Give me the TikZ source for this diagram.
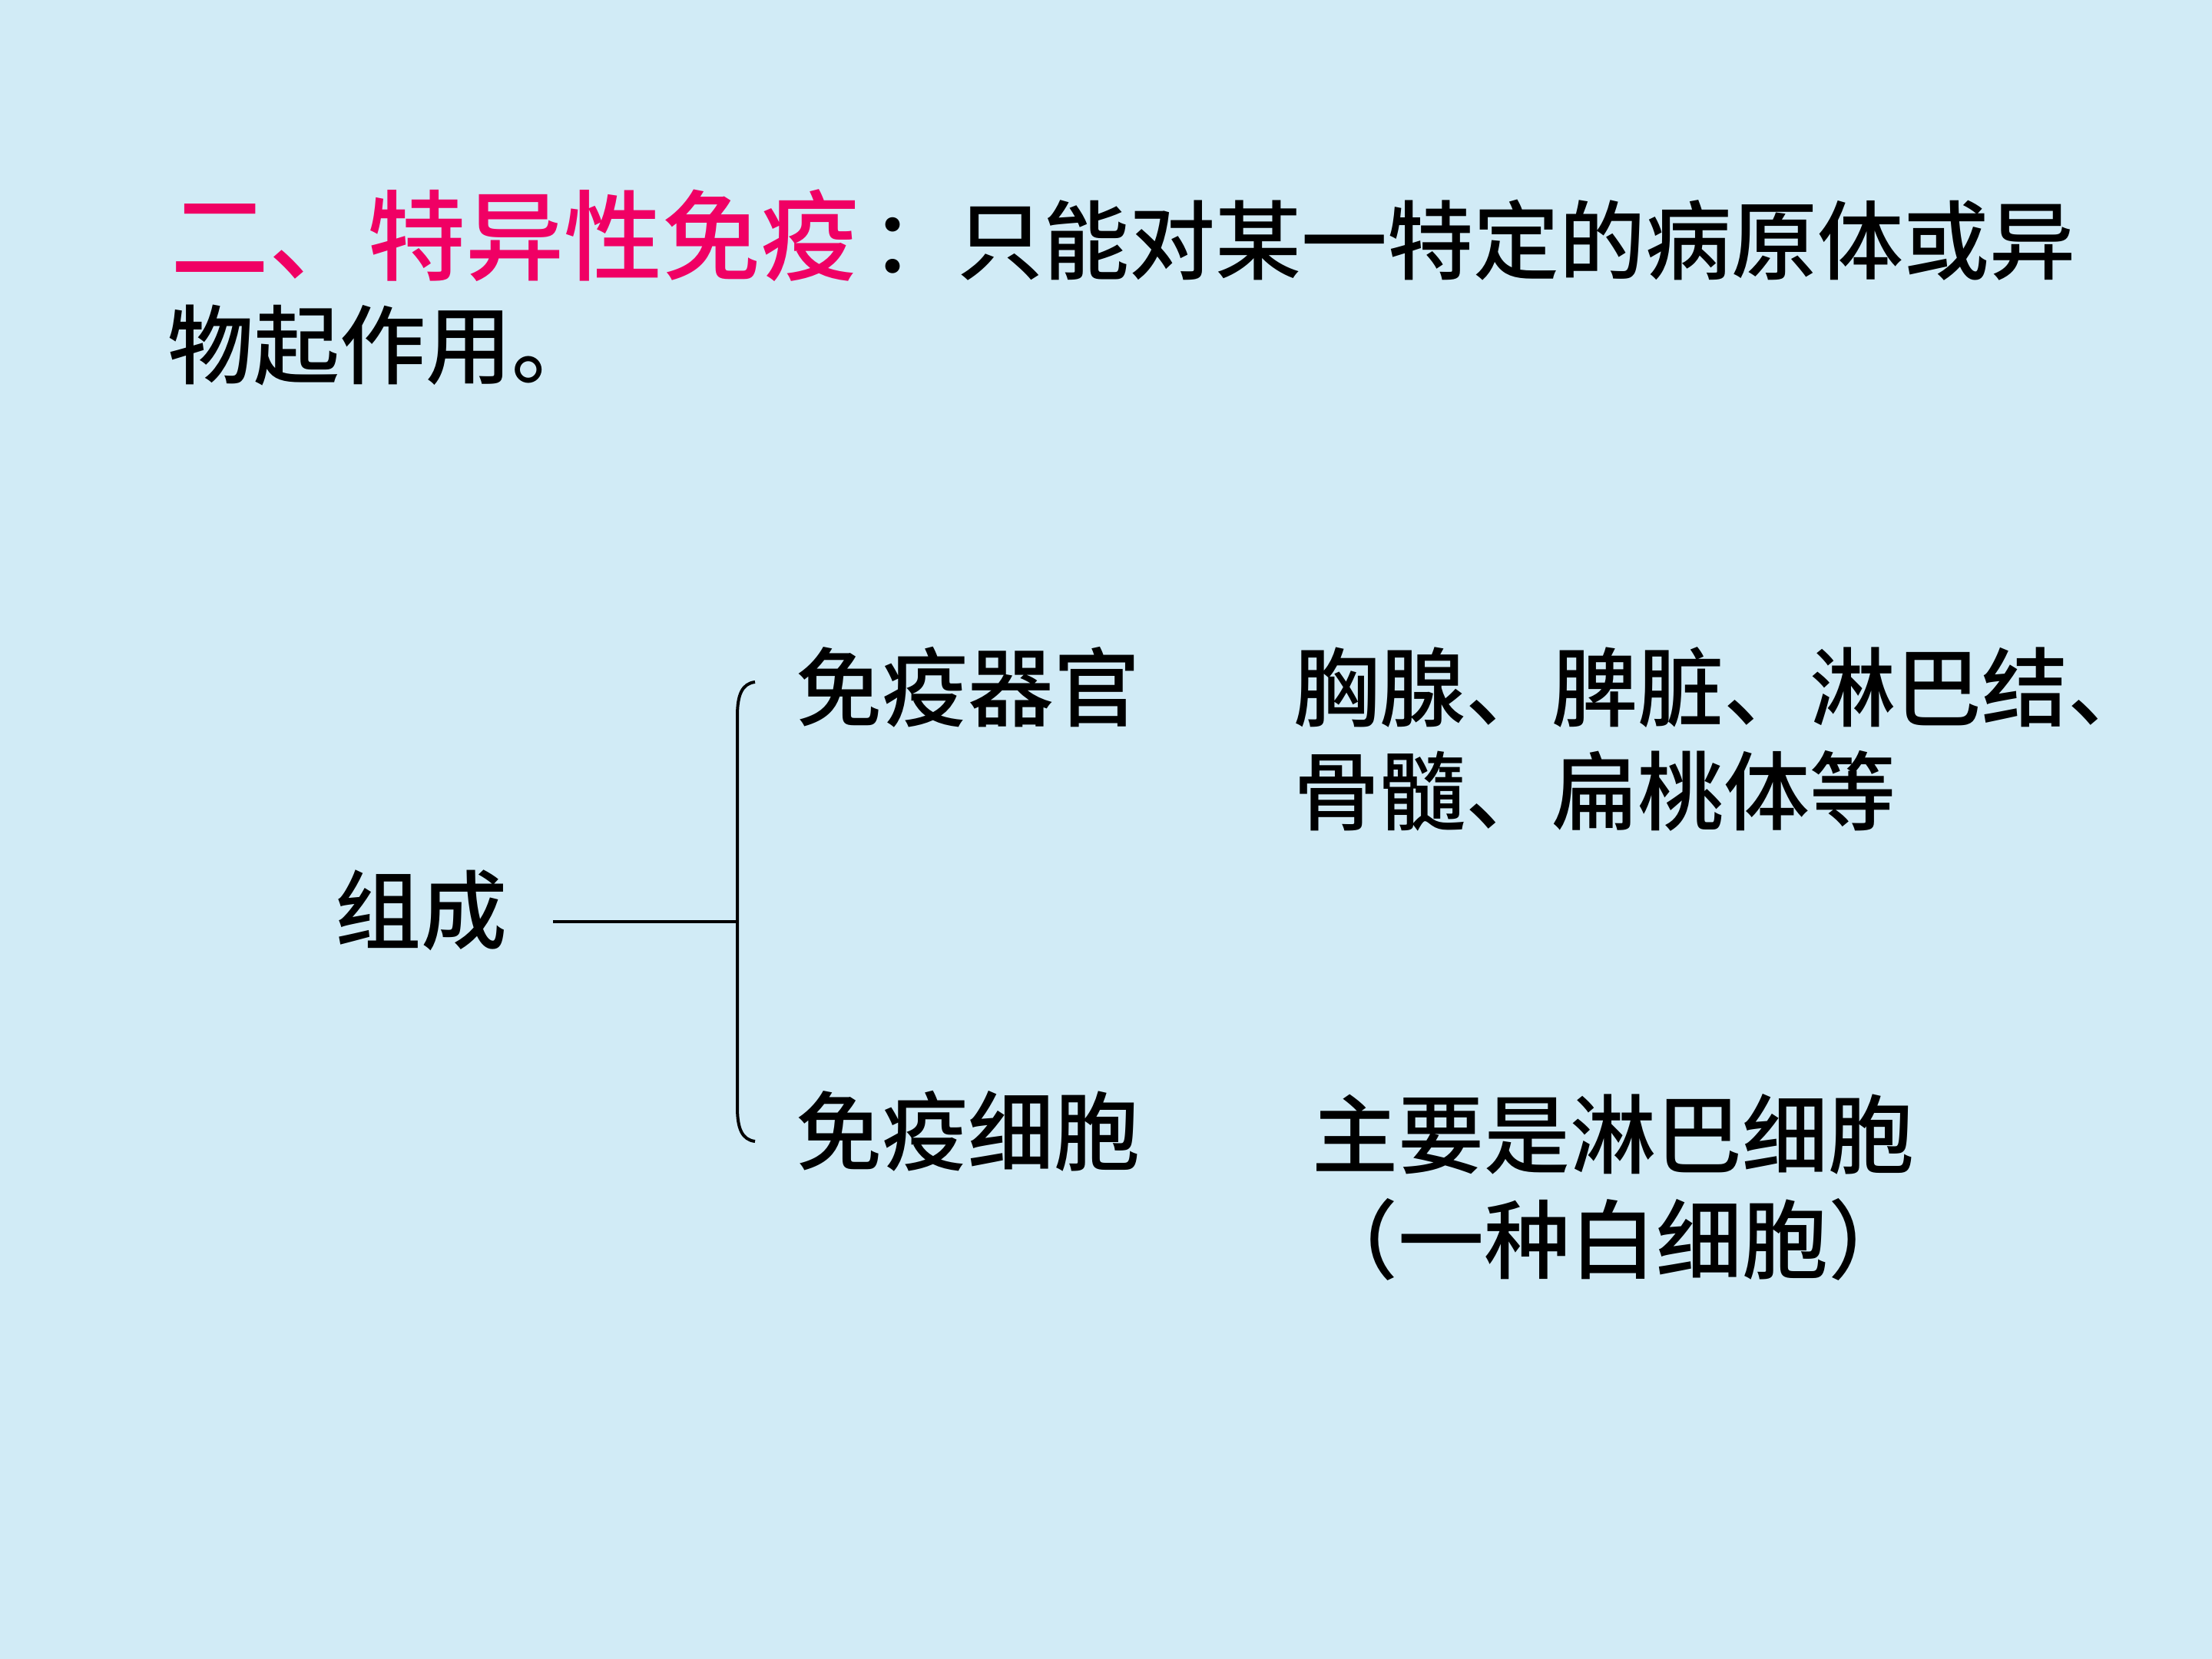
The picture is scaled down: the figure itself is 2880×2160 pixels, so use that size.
\documentclass[tikz,border=0pt]{standalone}
\usepackage{fontspec}
\setmainfont{Noto Sans CJK SC}[UprightFont=* Medium]
\definecolor{bgblue}{RGB}{209,235,246}
\definecolor{titlepink}{RGB}{240,0,100}
\begin{document}
\begin{tikzpicture}[x=0.25pt,y=-0.25pt,
  titlebig/.style={anchor=base west,inner sep=0pt,text=titlepink,font=\fontsize{32pt}{38pt}\selectfont},
  bodytext/.style={anchor=base west,inner sep=0pt,font=\fontsize{28pt}{34pt}\selectfont},
  bracketline/.style={draw=black,line width=1pt}]
\fill[bgblue] (0,0) rectangle (2880,2160);
\useasboundingbox (0,0) rectangle (2880,2160);
\node[titlebig] (t1a) at (222,356) {二、特异性免疫};
\node[bodytext,xshift=3.5pt] (t1b) at (t1a.base east) {：只能对某一特定的病原体或异};
\node[bodytext] (t2) at (218,492) {物起作用。};
\node[bodytext] (zc) at (436,1227) {组成};
\node[bodytext] (qg) at (1036,937) {免疫器官};
\node[bodytext] (qgd) at (1684,937) {胸腺、脾脏、淋巴结、};
\node[bodytext] (qgd2) at (1684,1072) {骨髓、扁桃体等};
\node[bodytext] (xb) at (1036,1515) {免疫细胞};
\node[bodytext] (xbd) at (1708,1519) {主要是淋巴细胞};
\node[bodytext] (xbd2) at (1708,1656) {（一种白细胞）};
\coordinate (hl) at (720,1200);
\coordinate (hr) at (960,1200);
\coordinate (btop) at (983,888);
\coordinate (bbot) at (983,1486);
\draw[bracketline] (hl) -- (hr);
\draw[bracketline] (btop) .. controls (966,890) and (960,905) .. (960,932) -- (960,1442) .. controls (960,1469) and (966,1484) .. (bbot);
\end{tikzpicture}
\end{document}
